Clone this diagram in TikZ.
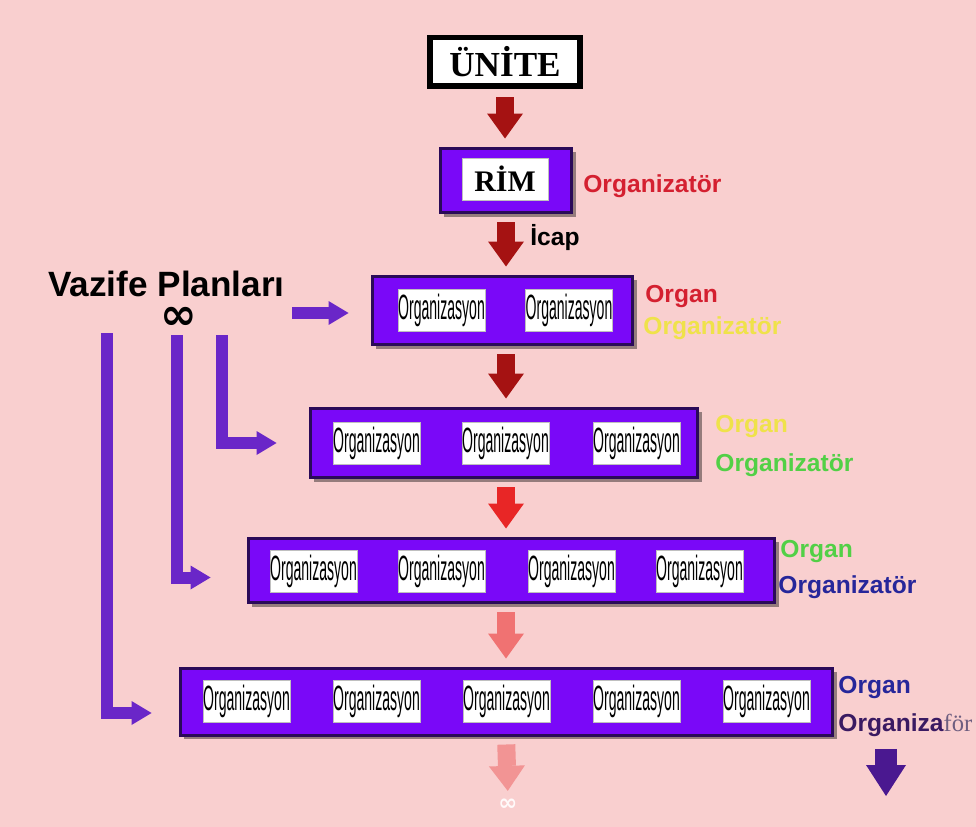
\documentclass[tikz,border=0pt]{standalone}
\usepackage{fontspec}
\setmainfont{Liberation Sans}
\newfontfamily\seriffont{Liberation Serif}
\newfontfamily\symfont{DejaVu Sans}
\newfontfamily\narrowfont[FakeStretch=0.4]{Liberation Sans}
\usetikzlibrary{arrows.meta,shadows}
\definecolor{fond}{HTML}{F9CFCF}
\definecolor{violetbox}{HTML}{7A08F8}
\definecolor{violetbord}{HTML}{2A0A58}
\definecolor{violetfleche}{HTML}{6A26C8}
\definecolor{violetfonce}{HTML}{4A1890}
\definecolor{rougefonce}{HTML}{A51212}
\definecolor{rougevif}{HTML}{E82626}
\definecolor{saumon}{HTML}{F07272}
\definecolor{saumonclair}{HTML}{F29494}
\definecolor{rougetxt}{HTML}{D42030}
\definecolor{jaunetxt}{HTML}{EFE24A}
\definecolor{verttxt}{HTML}{52D046}
\definecolor{bleutxt}{HTML}{26269A}
\definecolor{prunetxt}{HTML}{3A1A62}
\definecolor{grisfor}{HTML}{6E5E80}
\tikzset{
  cadre/.style={draw=violetbord, line width=0.06cm, fill=violetbox, inner sep=0pt,
    drop shadow={shadow xshift=0.08cm, shadow yshift=-0.08cm, fill=black, opacity=0.4}},
  case/.style={fill=white, draw=black!25, line width=0.3pt, minimum width=1.74cm,
    minimum height=0.84cm, inner sep=0pt, font=\narrowfont\fontsize{20}{20}\selectfont},
  fleche/.style={line width=0.36cm, shorten <=0.16cm, shorten >=0.16cm,
    -{Triangle[width=0.72cm, length=0.5cm, line width=0pt]}},
  plan/.style={line width=0.24cm, draw=violetfleche,
    -{Triangle[width=0.48cm, length=0.4cm, line width=0pt]}},
  etiq/.style={anchor=west, inner sep=0pt, font=\bfseries\fontsize{14}{14}\selectfont},
}
\begin{document}
\begin{tikzpicture}[x=0.02cm, y=-0.02cm]
  \fill[fond] (0,0) rectangle (976,827); % fond rose
  \useasboundingbox (0,0) rectangle (976,827);

  % haut
  \node[draw=black, line width=0.12cm, fill=white, minimum width=3.02cm, minimum height=0.98cm,
        font=\seriffont\bfseries\fontsize{20}{20}\selectfont] (unite) at (505,62) {ÜNİTE};
  \node[cadre, minimum width=2.64cm, minimum height=1.3cm] (rim) at (506,180.5) {};
  \node[fill=white, draw=black!25, minimum width=1.72cm, minimum height=0.84cm, inner sep=0pt,
        font=\seriffont\bfseries\fontsize{17}{17}\selectfont] (rimtxt) at (505,179) {RİM};

  % les quatre rangees
  \node[cadre, minimum width=5.22cm, minimum height=1.38cm] (r1) at (502.5,310.5) {};
  \node[cadre, minimum width=7.76cm, minimum height=1.4cm] (r2) at (504,443) {};
  \node[cadre, minimum width=10.54cm, minimum height=1.3cm] (r3) at (511.5,570.5) {};
  \node[cadre, minimum width=13.06cm, minimum height=1.34cm] (r4) at (506.5,701.5) {};
  \foreach \x [count=\i] in {441.5,569}
    \node[case] (o1\i) at (\x,310) {Organizasyon};
  \foreach \x [count=\i] in {376.5,505.5,636.5}
    \node[case] (o2\i) at (\x,443) {Organizasyon};
  \foreach \x [count=\i] in {313.5,441.5,571.5,699.5}
    \node[case] (o3\i) at (\x,571) {Organizasyon};
  \foreach \x [count=\i] in {246.5,376.5,506.5,636.5,766.5}
    \node[case] (o4\i) at (\x,701) {Organizasyon};

  % etiquettes a droite
  \node[etiq, text=rougetxt] (l0) at (583,186) {Organizatör};
  \node[etiq, text=black] (icap) at (530,238) {İcap};
  \node[etiq, text=rougetxt] (l1a) at (645,297) {Organ};
  \node[etiq, text=jaunetxt] (l1b) at (643,328) {Organizatör};
  \node[etiq, text=jaunetxt] (l2a) at (715,427) {Organ};
  \node[etiq, text=verttxt] (l2b) at (715,465) {Organizatör};
  \node[etiq, text=verttxt] (l3a) at (780,552) {Organ};
  \node[etiq, text=bleutxt] (l3b) at (778,587) {Organizatör};
  \node[etiq, text=bleutxt] (l4a) at (838,688) {Organ};
  \node[etiq, text=prunetxt] (l4b) at (838,725) {Organiza{\mdseries\seriffont\color{grisfor}för}};
  \node[text=white!92!pink, font=\symfont\bfseries\fontsize{13}{13}\selectfont, inner sep=0pt] (fin) at (508,805) {∞};

  % fleches centrales
  \draw[fleche, rougefonce] (unite.south) -- (unite.south |- rim.north);
  \draw[fleche, rougefonce] (rim.south) -- (rim.south |- r1.north);
  \draw[fleche, rougefonce] (rim.south |- r1.south) -- (rim.south |- r2.north);
  \draw[fleche, rougevif] (rim.south |- r2.south) -- (rim.south |- r3.north);
  \draw[fleche, saumon] (rim.south |- r3.south) -- (rim.south |- r4.north);
  \draw[fleche, saumonclair] (rim.south |- r4.south) -- (fin.north);
  \coordinate (bas) at (886,796);
  \draw[fleche, violetfonce, line width=0.44cm, shorten <=0.24cm, shorten >=0pt,
        -{Triangle[width=0.8cm, length=0.62cm, line width=0pt]}] (l4b.south -| bas) -- (bas);

  % vazife planlari
  \node[anchor=west, inner sep=0pt, font=\bfseries\fontsize{20}{20}\selectfont] (vazife) at (48,284) {Vazife Planları};
  \node[anchor=base, inner sep=0pt, text height=12pt, text depth=0pt,
        font=\symfont\bfseries\fontsize{25}{25}\selectfont] (sonsuz) at (179,329) {∞};
  \coordinate (h0) at (292,313);
  \coordinate (v1) at (222,335);
  \coordinate (v2) at (177,335);
  \coordinate (v3) at (107,333);
  \draw[plan, shorten >=0.44cm] (h0) -- (h0 -| r1.west);
  \draw[plan, shorten >=0.64cm] (v1) |- (r2.west);
  \draw[plan, shorten >=0.72cm] (v2) |- ([yshift=-0.14cm]r3.west);
  \draw[plan, shorten >=0.54cm] (v3) |- ([yshift=-0.23cm]r4.west);
\end{tikzpicture}
\end{document}
